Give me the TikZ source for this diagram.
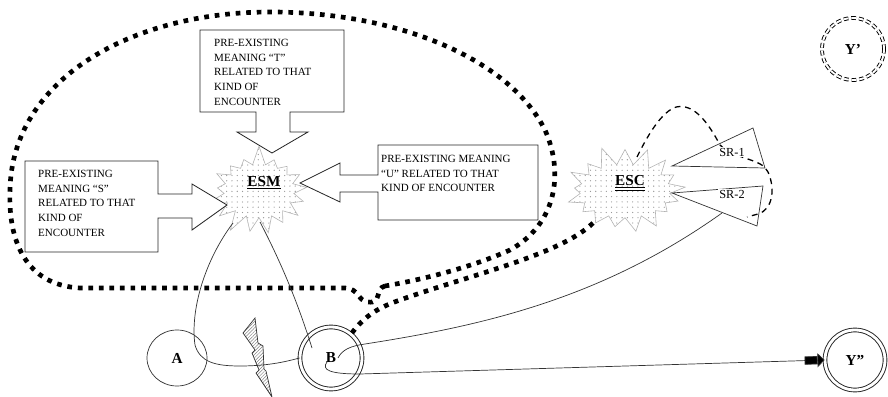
\documentclass[tikz,border=0pt]{standalone}
\usepackage{fontspec}
\setmainfont{Liberation Serif}
\usetikzlibrary{shapes.symbols,shapes.geometric,patterns.meta,arrows.meta}
\begin{document}
\begin{tikzpicture}[x=0.03cm,y=-0.03cm,
  box/.style={draw=black!85,line width=0.7pt,line join=miter},
  boxtext/.style={anchor=north west,inner sep=0pt,align=left,font=\fontsize{9.4}{12.5}\selectfont},
  burst/.style={starburst,draw=gray!60,line width=0.5pt,pattern={Dots[distance=4.5pt,radius=0.55pt]},pattern color=gray!80,starburst points=17,starburst point height=0.6cm,inner sep=0pt},
  conn/.style={draw=black!80,line width=0.6pt},
  bigdots/.style={line width=4pt,dash pattern=on 4pt off 5pt,black},
  dashline/.style={line width=1.1pt,dash pattern=on 5pt off 4pt,black},
  biglab/.style={font=\fontsize{13}{14}\selectfont\bfseries,inner sep=1pt},
  srlab/.style={font=\fontsize{10.5}{12}\selectfont,inner sep=1pt,fill=white},
  dbl/.style={draw=black!85,double,double distance=2.4pt,line width=0.8pt}
]
\useasboundingbox (0,0) rectangle (888,397);

% ---- big dotted loop ----
\draw[bigdots] (385,286) .. controls (375,288) and (382,304) .. (368,302)
  .. controls (356,300) and (360,289) .. (345,288) -- (80,288)
  .. controls (25,285) and (8,240) .. (10,190)
  .. controls (12,80) and (130,12) .. (270,12)
  .. controls (400,12) and (510,60) .. (545,130)
  .. controls (565,175) and (555,225) .. (510,250)
  .. controls (470,268) and (420,280) .. (385,286);

% ---- starbursts ----
\node[burst,random starburst=7,minimum width=3.3cm,minimum height=2.8cm] (esm) at (259,191) {};
\node[burst,random starburst=11,minimum width=3.9cm,minimum height=2.8cm] (esc) at (625,191) {};
\node[biglab] (esmt) at (264,183) {\underline{ESM}};
\node[biglab] (esct) at (630,183) {\underline{\underline{ESC}}};

\coordinate (escbl) at (593,223);
\coordinate (escto) at (637,157);
\coordinate (esmbl) at (233,223);
\coordinate (esmbr) at (260,222);

% ---- callout boxes ----
\draw[box,fill=white] (200,30) -- (344,30) -- (344,112) -- (290,112) -- (290,132) -- (308,132)
  -- (272,153) -- (237,132) -- (256,132) -- (256,112) -- (200,112) -- cycle;
\node[boxtext] (tt) at (214,39) {PRE-EXISTING\\MEANING “T”\\RELATED TO THAT\\KIND OF\\ENCOUNTER};

\draw[box,fill=white] (25,161) -- (158,161) -- (158,194) -- (192,194) -- (192,184) -- (227,205)
  -- (192,230) -- (192,218) -- (158,218) -- (158,252) -- (25,252) -- cycle;
\node[boxtext] (st) at (38,170) {PRE-EXISTING\\MEANING “S”\\RELATED TO THAT\\KIND OF\\ENCOUNTER};

\draw[box,fill=white] (378,145) -- (538,145) -- (538,220) -- (378,220) -- (378,192) -- (340,192)
  -- (340,202) -- (300,183) -- (340,163) -- (340,175) -- (378,175) -- cycle;
\node[boxtext] (ut) at (381,155) {PRE-EXISTING MEANING\\“U” RELATED TO THAT\\KIND OF ENCOUNTER};

% ---- circles ----
\node[ellipse,draw=black!80,line width=0.6pt,minimum width=1.8cm,minimum height=1.68cm,font=\fontsize{13}{14}\selectfont\bfseries] (a) at (177,358) {A};
\node[circle,dbl,minimum size=1.86cm,font=\fontsize{13}{14}\selectfont\bfseries] (b) at (331,358) {B};
\node[circle,dbl,minimum size=1.8cm,font=\fontsize{13}{14}\selectfont\bfseries] (yy) at (855,360) {Y”};
\node[circle,draw=black,double,double distance=1.6pt,line width=0.8pt,dash pattern=on 4pt off 2.5pt,minimum size=1.86cm,font=\fontsize{13}{14}\selectfont\bfseries] (yp) at (853,49) {Y’};

% ---- lightning ----
\draw[draw=black!80,line width=0.6pt,pattern={Lines[angle=45,distance=2pt,line width=0.4pt]},pattern color=gray]
  (255,318) -- (258,343) -- (263,346) -- (264,369) -- (266,371) -- (272,397)
  -- (256,373) -- (259,370) -- (252,353) -- (255,350) -- (243,333) -- cycle;

% ---- thin connectors ----
\coordinate (bl1) at (338,358);
\coordinate (bl2) at (327,362);
\coordinate (bin) at (312,348);
\coordinate (sr2b) at (722,213);
\draw[conn] (esmbl) .. controls (205,260) and (190,310) .. (195,345)
  .. controls (200,362) and (215,366) .. (240,366)
  .. controls (270,366) and (288,361) .. (b.west);
\draw[conn] (esmbr) .. controls (285,270) and (300,310) .. (bin);
\draw[conn] (bl1) .. controls (342,350) and (350,346) .. (365,344)
  .. controls (480,326) and (600,300) .. (sr2b);
\draw[conn,-{Rectangle[length=11pt,width=7pt,fill=black]Triangle[length=6pt,width=12pt,fill=black]}]
  (bl2) .. controls (321,370) and (330,374) .. (360,374) -- (yy.west);

% ---- dotted from ESC to B ----
\draw[bigdots] (escbl) .. controls (560,255) and (470,275) .. (400,300)
  .. controls (380,307) and (365,315) .. (b.50);

% ---- dashed loop around SR ----
\draw[dashline] (escto) .. controls (660,110) and (675,104) .. (685,107)
  .. controls (700,110) and (712,130) .. (720,145)
  .. controls (735,160) and (762,158) .. (768,172)
  .. controls (776,190) and (772,210) .. (758,214) -- (747,217);

% ---- SR triangles ----
\draw[conn] (672,166) -- (753,128) -- (765,168) -- cycle;
\draw[conn] (672,193) -- (763,186) -- (757,226) -- cycle;
\node[srlab] (sr1) at (732,152) {SR-1};
\node[srlab] (sr2) at (732,194) {SR-2};
\end{tikzpicture}
\end{document}
